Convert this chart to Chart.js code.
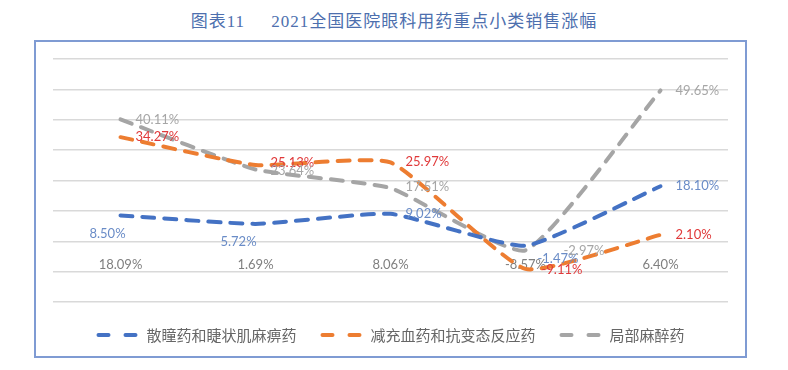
<!DOCTYPE html>
<html>
<head>
<meta charset="utf-8">
<script src="https://cdn.jsdelivr.net/npm/chart.js@4"></script>
<style>
  body { margin: 0; background: #fff; width: 788px; height: 370px; position: relative; overflow: hidden; }
  #title {
    position: absolute; left: 0; top: 7px; width: 788px; text-align: center;
    font-family: "Liberation Serif", "Noto Sans CJK SC", serif; font-size: 17px;
    color: #4d6fae; white-space: pre; letter-spacing: 1px;
  }
  #box {
    position: absolute; left: 34px; top: 40px; width: 713px; height: 318px;
    box-sizing: border-box; border: 2px solid #7f9bd3; background: #fff;
  }
  #chart { position: absolute; left: 0; top: 0; }
</style>
</head>
<body>
<div id="title">图表11     2021全国医院眼科用药重点小类销售涨幅</div>
<div id="box"><canvas id="chart" width="709" height="314"></canvas></div>
<script>
// category labels (shown along the zero line)
const categories = ['18.09%', '1.69%', '8.06%', '-8.57%', '6.40%'];
const seriesNames = ['散瞳药和睫状肌麻痹药', '减充血药和抗变态反应药', '局部麻醉药'];
const mydriatics = [8.50, 5.72, 9.02, -1.47, 18.10];
const decongestants = [34.27, 25.13, 25.97, -9.11, 2.10];
const anesthetics = [40.11, 23.64, 17.51, -2.97, 49.65];
const yTicks = [-20, -10, 0, 10, 20, 30, 40, 50, 60];

const lineColors = ['#4472C4', '#ED7D31', '#A5A5A5'];
const labelColors = ['#6a8cc7', '#e0393a', '#a6a6a6'];
// label offsets from each point [dx, dy, align]
const labelOffsets = [
    [[-13, 18, 'center'], [-17, 18, 'center'], [15, 0, 'left'], [12, 13, 'left'], [15, 0, 'left']],
    [[15, 0, 'left'], [15, -2, 'left'], [15, -1, 'left'], [16, 1, 'left'], [15, 0, 'left']],
    [[15, 0, 'left'], [15, 1, 'left'], [15, -1, 'left'], [38, 1, 'left'], [15, 0, 'left']]
];

const labelFont = '13px Lato, "Noto Sans", sans-serif';

// Draw value labels next to each point
const valueLabels = {
    id: 'valueLabels',
    afterDatasetsDraw(chart) {
        const ctx = chart.ctx;
        ctx.save();
        ctx.font = labelFont;
        ctx.textBaseline = 'middle';
        chart.data.datasets.forEach((ds, di) => {
            const meta = chart.getDatasetMeta(di);
            meta.data.forEach((pt, i) => {
                const off = labelOffsets[di][i];
                ctx.fillStyle = labelColors[di];
                ctx.textAlign = off[2];
                ctx.fillText(ds.data[i].toFixed(2) + '%', pt.x + off[0], pt.y + off[1]);
            });
        });
        ctx.restore();
    }
};

// Legend with dashed line samples
const dashLegend = {
    id: 'dashLegend',
    afterDraw(chart) {
        const ctx = chart.ctx;
        ctx.save();
        ctx.font = '15px "Noto Sans CJK SC", sans-serif';
        ctx.textBaseline = 'middle';
        const sample = 42, gap = 8, spacing = 24;
        const widths = chart.data.datasets.map(ds => ctx.measureText(ds.label).width);
        const total = widths.reduce((a, w) => a + sample + gap + w, 0) + spacing * (widths.length - 1);
        let x = (chart.width - total) / 2;
        const y = 293;
        chart.data.datasets.forEach((ds, i) => {
            ctx.strokeStyle = ds.borderColor;
            ctx.lineWidth = 4;
            ctx.lineCap = 'round';
            ctx.setLineDash([10, 17]);
            ctx.beginPath();
            ctx.moveTo(x + 2, y);
            ctx.lineTo(x + sample - 2, y);
            ctx.stroke();
            ctx.setLineDash([]);
            ctx.fillStyle = '#666666';
            ctx.textAlign = 'left';
            ctx.fillText(ds.label, x + sample + gap, y);
            x += sample + gap + widths[i] + spacing;
        });
        ctx.restore();
    }
};

const seriesData = [mydriatics, decongestants, anesthetics];

new Chart(document.getElementById('chart'), {
    type: 'line',
    data: {
        labels: categories,
        datasets: seriesData.map((d, i) => ({
            label: seriesNames[i],
            data: d,
            borderColor: lineColors[i],
            backgroundColor: lineColors[i],
            borderWidth: 4,
            borderDash: [12, 10],
            borderCapStyle: 'round',
            pointRadius: 0,
            tension: 0.15,
            fill: false
        }))
    },
    options: {
        responsive: false,
        animation: false,
        layout: { padding: { left: 17, right: 17, top: 17, bottom: 54 } },
        plugins: {
            legend: { display: false },
            tooltip: { enabled: false }
        },
        scales: {
            x: {
                type: 'category',
                offset: true,
                position: { y: 0 },
                grid: { display: false },
                border: { display: false },
                ticks: {
                    color: '#7f7f7f',
                    font: { family: 'Lato, "Noto Sans", sans-serif', size: 13 },
                    padding: 8,
                    maxRotation: 0
                }
            },
            y: {
                min: yTicks[0],
                max: yTicks[yTicks.length - 1],
                afterBuildTicks: axis => { axis.ticks = yTicks.map(v => ({ value: v })); },
                ticks: { display: false },
                grid: { color: '#d9d9d9', lineWidth: 1.5, drawTicks: false },
                border: { display: false }
            }
        }
    },
    plugins: [valueLabels, dashLegend]
});
</script>
</body>
</html>
